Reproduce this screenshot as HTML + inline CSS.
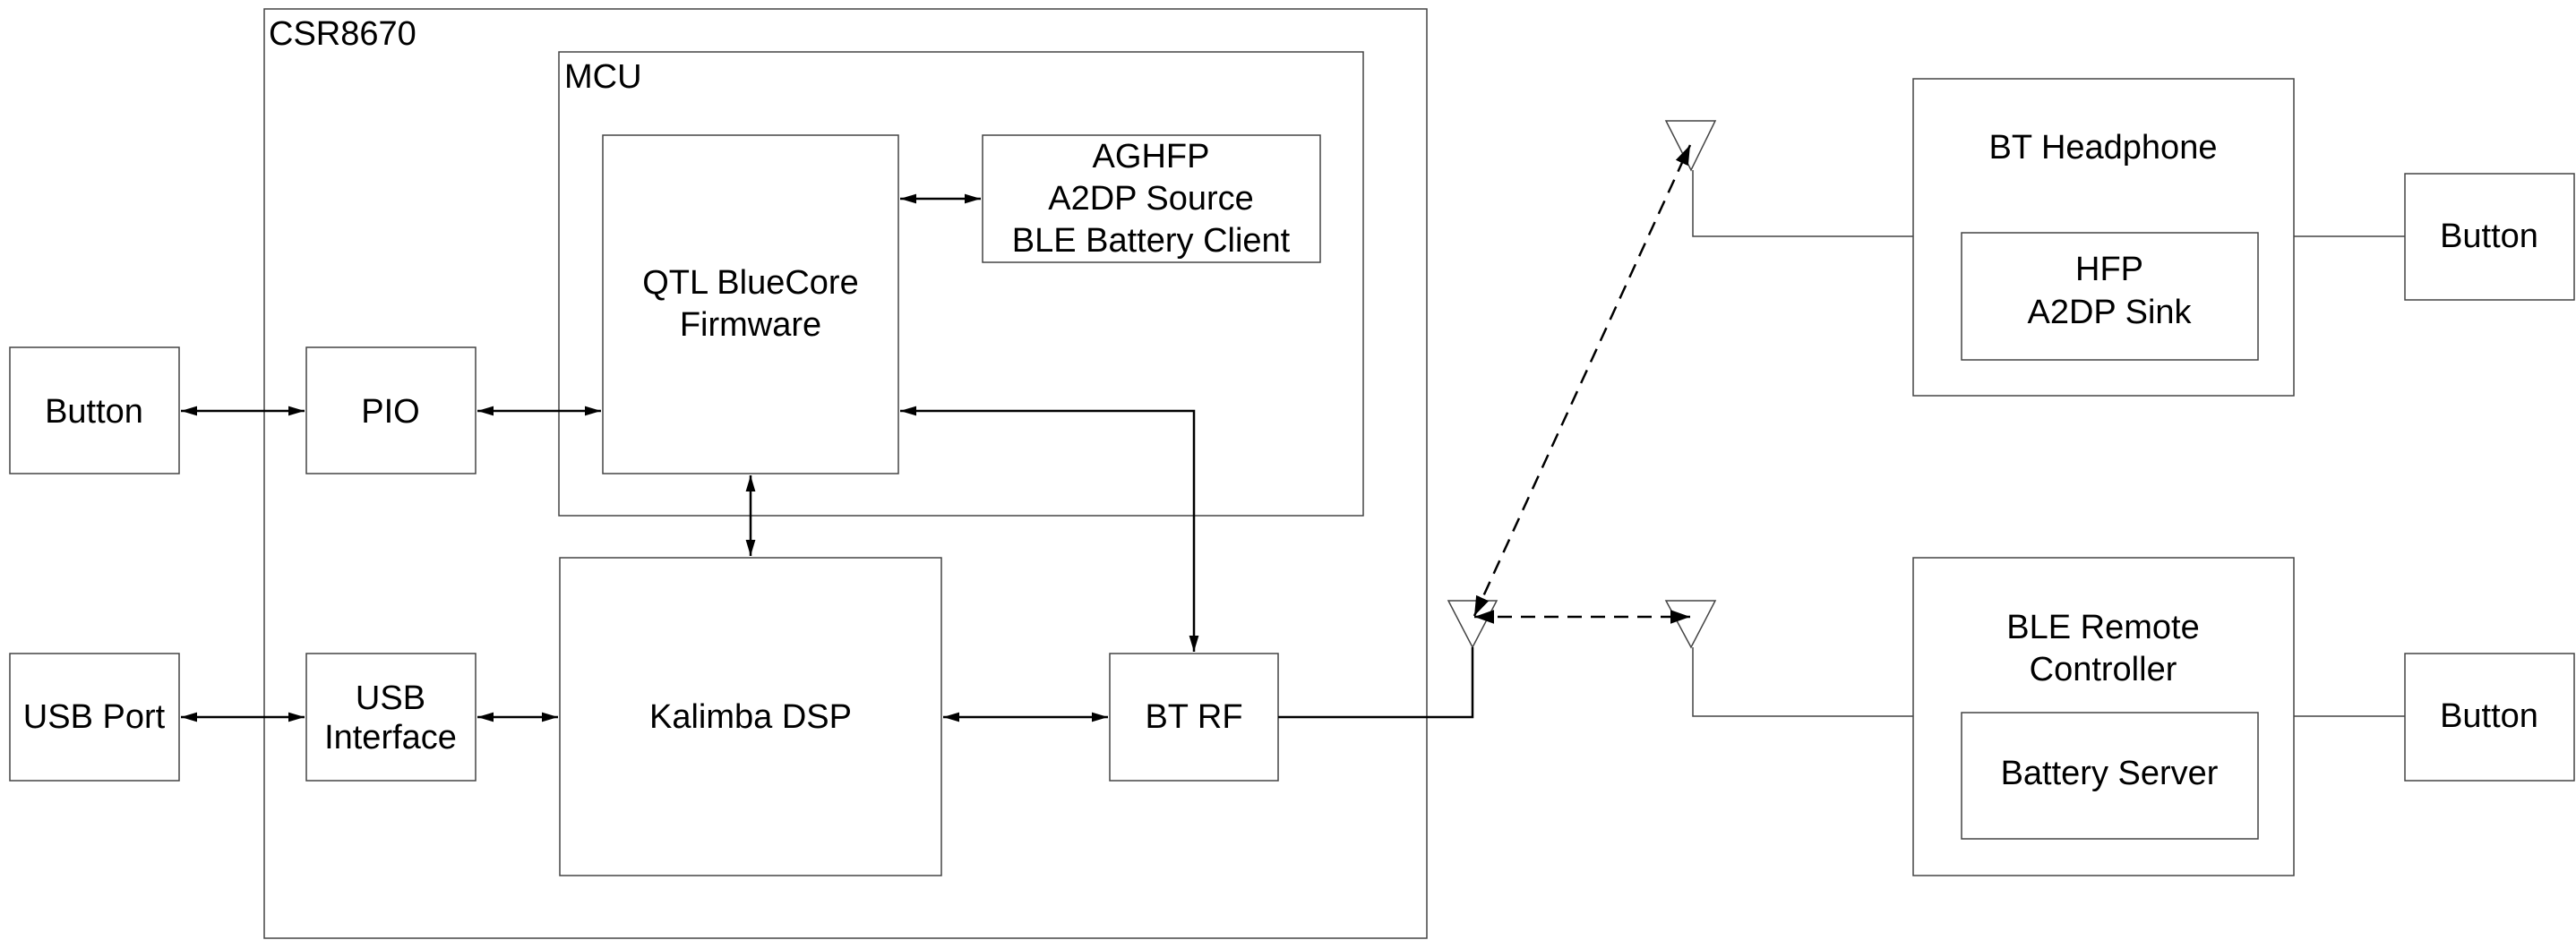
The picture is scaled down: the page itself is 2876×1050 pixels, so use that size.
<!DOCTYPE html>
<html><head><meta charset="utf-8"><style>
html,body{margin:0;padding:0;background:#fff;}
svg{display:block;}
text{font-family:"Liberation Sans",sans-serif;font-size:38px;fill:#000;}
</style></head><body>
<svg width="2876" height="1050" viewBox="0 0 2876 1050" xmlns="http://www.w3.org/2000/svg">
<defs>
<marker id="a" viewBox="0 0 10 10" refX="10" refY="5" markerWidth="18" markerHeight="18" markerUnits="userSpaceOnUse" orient="auto-start-reverse">
<path d="M0,2 L10,5 L0,8 z" fill="#000"/></marker>
<marker id="b" viewBox="0 0 10 10" refX="10" refY="5" markerWidth="22" markerHeight="22" markerUnits="userSpaceOnUse" orient="auto-start-reverse">
<path d="M0,1.5 L10,5 L0,8.5 z" fill="#000"/></marker>
</defs>
<g fill="none" stroke="#444" stroke-width="1.5">
<rect x="295" y="10" width="1298" height="1038"/>
<rect x="624" y="58" width="898" height="518"/>
<rect x="673" y="151" width="330" height="378"/>
<rect x="1097" y="151" width="377" height="142"/>
<rect x="11" y="388" width="189" height="141"/>
<rect x="342" y="388" width="189" height="141"/>
<rect x="11" y="730" width="189" height="142"/>
<rect x="342" y="730" width="189" height="142"/>
<rect x="625" y="623" width="426" height="355"/>
<rect x="1239" y="730" width="188" height="142"/>
<rect x="2136" y="88" width="425" height="354"/>
<rect x="2190" y="260" width="331" height="142"/>
<rect x="2685" y="194" width="189" height="141"/>
<rect x="2136" y="623" width="425" height="355"/>
<rect x="2190" y="796" width="331" height="141"/>
<rect x="2685" y="730" width="189" height="142"/>
<path d="M1617,671 L1671,671 L1644,723 z"/>
<path d="M1860,135 L1915,135 L1888,190 z"/>
<path d="M1860,671 L1915,671 L1888,723 z"/>
<path d="M1890,190 L1890,264 L2136,264"/>
<path d="M2561,264 L2685,264"/>
<path d="M1890,723 L1890,800 L2136,800"/>
<path d="M2561,800 L2685,800"/>
</g>
<g fill="none" stroke="#000" stroke-width="2.5">
<path d="M1427,801 L1644,801 L1644,723"/>
<line x1="202" y1="459" x2="340" y2="459" marker-start="url(#a)" marker-end="url(#a)"/>
<line x1="533" y1="459" x2="671" y2="459" marker-start="url(#a)" marker-end="url(#a)"/>
<line x1="202" y1="801" x2="340" y2="801" marker-start="url(#a)" marker-end="url(#a)"/>
<line x1="533" y1="801" x2="623" y2="801" marker-start="url(#a)" marker-end="url(#a)"/>
<line x1="1053" y1="801" x2="1237" y2="801" marker-start="url(#a)" marker-end="url(#a)"/>
<line x1="1005" y1="222" x2="1095" y2="222" marker-start="url(#a)" marker-end="url(#a)"/>
<line x1="838" y1="531" x2="838" y2="621" marker-start="url(#a)" marker-end="url(#a)"/>
<path d="M1005,459 L1333,459 L1333,728" marker-start="url(#a)" marker-end="url(#a)"/>
<line x1="1646" y1="689" x2="1887" y2="689" stroke-dasharray="16,10" marker-start="url(#b)" marker-end="url(#b)"/>
<line x1="1646" y1="688" x2="1887" y2="162" stroke-dasharray="16,10" marker-start="url(#b)" marker-end="url(#b)"/>
</g>
<g text-anchor="middle">
<text x="105" y="472">Button</text>
<text x="436" y="472">PIO</text>
<text x="105" y="813">USB Port</text>
<text x="436" y="792">USB</text>
<text x="436" y="836">Interface</text>
<text x="838" y="328">QTL BlueCore</text>
<text x="838" y="375">Firmware</text>
<text x="1285" y="187">AGHFP</text>
<text x="1285" y="234">A2DP Source</text>
<text x="1285" y="281">BLE Battery Client</text>
<text x="838" y="813">Kalimba DSP</text>
<text x="1333" y="813">BT RF</text>
<text x="2348" y="177">BT Headphone</text>
<text x="2355" y="313">HFP</text>
<text x="2355" y="361">A2DP Sink</text>
<text x="2779" y="276">Button</text>
<text x="2348" y="713">BLE Remote</text>
<text x="2348" y="760">Controller</text>
<text x="2355" y="876">Battery Server</text>
<text x="2779" y="812">Button</text>
</g>
<text x="300" y="50">CSR8670</text>
<text x="630" y="98">MCU</text>
</svg>
</body></html>
